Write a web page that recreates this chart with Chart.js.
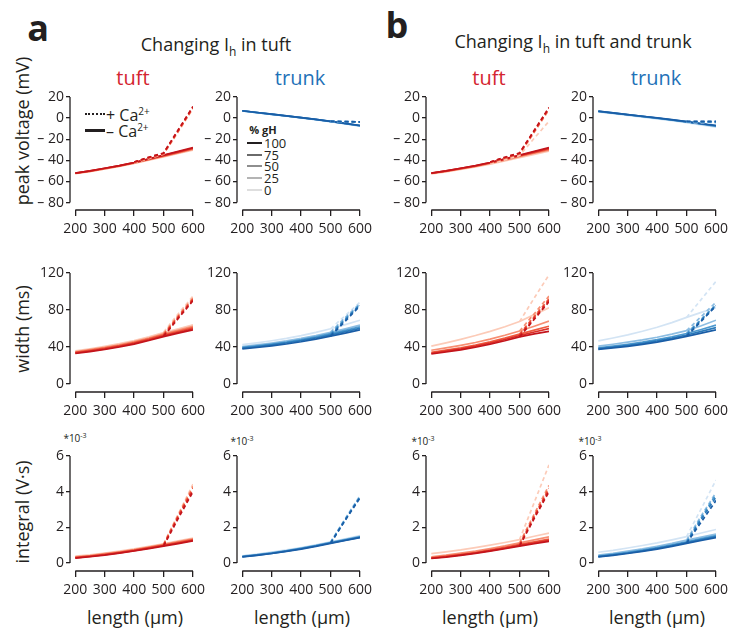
<!DOCTYPE html>
<html>
<head>
<meta charset="utf-8">
<script src="https://cdn.jsdelivr.net/npm/chart.js@4"></script>
<style>
  body { margin: 0; background: #fff; }
  #fig { position: relative; width: 730px; height: 628px; overflow: hidden; font-family: "Open Sans", sans-serif; color: #231f20; }
  #fig canvas { position: absolute; }
  .t { position: absolute; white-space: nowrap; transform: translate(-50%, -50%); line-height: 1; }
  .l { transform: translate(0, -50%); }
  .rot { transform: translate(-50%, -50%) rotate(-90deg); }
  sub, sup { line-height: 0; }
</style>
</head>
<body>
<div id="fig">
  <div class="t" style="left:38px;top:28px;font-size:36px;font-weight:bold;">a</div>
  <div class="t" style="left:397px;top:25px;font-size:36px;font-weight:bold;">b</div>
  <div class="t" style="left:216px;top:44px;font-size:18px;">Changing I<sub style="font-size:12px;">h</sub> in tuft</div>
  <div class="t" style="left:573px;top:41px;font-size:18px;">Changing I<sub style="font-size:12px;">h</sub> in tuft and trunk</div>

  <div class="t" style="left:133px;top:78px;font-size:20px;color:#d42530;">tuft</div>
  <div class="t" style="left:300px;top:78px;font-size:20px;color:#1f72b8;">trunk</div>
  <div class="t" style="left:489px;top:78px;font-size:20px;color:#d42530;">tuft</div>
  <div class="t" style="left:656px;top:78px;font-size:20px;color:#1f72b8;">trunk</div>

  <div class="t rot" style="left:22px;top:131px;font-size:18px;">peak voltage (mV)</div>
  <div class="t rot" style="left:22px;top:329px;font-size:18px;">width (ms)</div>
  <div class="t rot" style="left:22px;top:512px;font-size:18px;">integral (V·s)</div>

  <div class="t" style="left:135px;top:617px;font-size:18px;">length (µm)</div>
  <div class="t" style="left:302px;top:617px;font-size:18px;">length (µm)</div>
  <div class="t" style="left:490px;top:617px;font-size:18px;">length (µm)</div>
  <div class="t" style="left:657px;top:617px;font-size:18px;">length (µm)</div>

  <div class="t" style="left:75px;top:438px;font-size:10px;">*10<sup style="font-size:7px;">-3</sup></div>
  <div class="t" style="left:242px;top:441px;font-size:10px;">*10<sup style="font-size:7px;">-3</sup></div>
  <div class="t" style="left:423px;top:441px;font-size:10px;">*10<sup style="font-size:7px;">-3</sup></div>
  <div class="t" style="left:590px;top:441px;font-size:10px;">*10<sup style="font-size:7px;">-3</sup></div>

  <!-- Ca legend -->
  <div style="position:absolute;left:85px;top:113px;width:20px;border-top:2px dotted #231f20;"></div>
  <div class="t l" style="left:106px;top:115px;font-size:16px;">+ Ca<sup style="font-size:10px;">2+</sup></div>
  <div style="position:absolute;left:85px;top:129px;width:20px;border-top:3px solid #231f20;"></div>
  <div class="t l" style="left:106px;top:131px;font-size:16px;">– Ca<sup style="font-size:10px;">2+</sup></div>

  <!-- gH legend -->
  <div class="t" style="left:263px;top:129px;font-size:11px;font-weight:bold;">% gH</div>
</div>

<script>
const lengths = [200, 250, 300, 350, 400, 450, 500, 550, 600];
const gH = [100, 75, 50, 25, 0];
const lengthTicks = [200, 300, 400, 500, 600];
const peakTicks = [20, 0, -20, -40, -60, -80];
const widthTicks = [0, 40, 80, 120];
const integralTicks = [0, 2, 4, 6];

// peak voltage (mV), one row per gH level
const aTuftPeak = [
  [-52, -50, -47.5, -45, -42, -38.5, -35, -31.5, -28],
  [-52, -50, -47.5, -45, -42.1, -38.7, -35.3, -32, -28.5],
  [-52.2, -50.2, -47.7, -45.2, -42.3, -39, -35.7, -32.4, -29],
  [-52.4, -50.4, -48, -45.5, -42.6, -39.4, -36.2, -33, -29.6],
  [-52.6, -50.6, -48.2, -45.8, -43, -39.8, -36.7, -33.5, -30.2]
];
const aTuftPeakCa = [
  [null, null, null, null, -41.5, -37, -33, -11, 11],
  [null, null, null, null, -41.6, -37.2, -33.3, -11.5, 10.5],
  [null, null, null, null, -41.8, -37.5, -33.6, -12, 10],
  [null, null, null, null, -42.1, -37.9, -33.9, -12.5, 9.5],
  [null, null, null, null, -42.5, -38.3, -34.2, -13, 9]
];
const aTrunkPeak = [
  [7, 5.3, 3.7, 2.1, 0.5, -1.2, -3, -5, -7],
  [7, 5.3, 3.7, 2.1, 0.5, -1.2, -3.1, -5.1, -7.1],
  [6.9, 5.2, 3.6, 2, 0.4, -1.3, -3.2, -5.2, -7.2],
  [6.9, 5.2, 3.6, 2, 0.3, -1.4, -3.3, -5.3, -7.3],
  [6.8, 5.1, 3.5, 1.9, 0.2, -1.5, -3.4, -5.5, -7.5]
];
const aTrunkPeakCa = [
  [null, null, null, null, null, null, -3, -3.3, -3.5],
  [null, null, null, null, null, null, -3.1, -3.3, -3.5],
  [null, null, null, null, null, null, -3.2, -3.4, -3.6],
  [null, null, null, null, null, null, -3.3, -3.5, -3.7],
  [null, null, null, null, null, null, -3.4, -3.6, -3.8]
];
const bTuftPeak = [
  [-52, -50, -47.5, -45, -42, -38.5, -35, -31.5, -28],
  [-52, -50, -47.6, -45.1, -42.2, -38.8, -35.4, -32, -28.6],
  [-52.2, -50.2, -47.8, -45.4, -42.5, -39.2, -35.9, -32.6, -29.3],
  [-52.4, -50.5, -48.1, -45.7, -42.9, -39.7, -36.5, -33.3, -30.2],
  [-52.8, -50.9, -48.6, -46.3, -43.6, -40.5, -37.4, -34.3, -31.3]
];
const bTuftPeakCa = [
  [null, null, null, null, -41.5, -37, -33, -11.5, 10],
  [null, null, null, null, -41.7, -37.3, -33.2, -12, 9.5],
  [null, null, null, null, -42, -37.6, -33.5, -12.5, 9],
  [null, null, null, null, -42.4, -38.1, -34, -13.5, 8],
  [null, null, null, null, -43.4, -39.5, -35.5, -19, -3]
];
const bTrunkPeak = [
  [6.6, 5, 3.4, 1.8, 0.2, -1.5, -3.3, -5.2, -7],
  [6.5, 4.9, 3.3, 1.7, 0.1, -1.6, -3.4, -5.3, -7.2],
  [6.4, 4.8, 3.2, 1.6, 0, -1.8, -3.6, -5.5, -7.5],
  [6.2, 4.6, 3, 1.4, -0.2, -2, -3.9, -5.8, -7.9],
  [5.8, 4.2, 2.6, 1, -0.7, -2.5, -4.4, -6.4, -8.5]
];
const bTrunkPeakCa = [
  [null, null, null, null, null, null, -3.1, -3.1, -3],
  [null, null, null, null, null, null, -3.2, -3.3, -3.4],
  [null, null, null, null, null, null, -3.4, -3.5, -3.6],
  [null, null, null, null, null, null, -3.7, -3.8, -4],
  [null, null, null, null, null, null, -4.2, -4.3, -4.5]
];

// width (ms)
const aTuftWidth = [
  [33, 35, 37.3, 40, 43.2, 47, 51.2, 55, 58.5],
  [33.6, 35.7, 38, 40.8, 44, 47.9, 52.2, 56, 59.8],
  [34.2, 36.4, 38.8, 41.6, 44.9, 48.8, 53.2, 57.1, 61],
  [34.9, 37.1, 39.6, 42.5, 45.8, 49.8, 54.3, 58.3, 62.4],
  [35.8, 38.1, 40.7, 43.6, 47, 51.1, 55.6, 59.7, 64]
];
const aTuftWidthCa = [
  [null, null, null, null, null, null, 51.5, 71, 90],
  [null, null, null, null, null, null, 52.5, 72, 91],
  [null, null, null, null, null, null, 53.5, 73, 92],
  [null, null, null, null, null, null, 54.5, 74, 93],
  [null, null, null, null, null, null, 56, 76, 95]
];
const aTrunkWidth = [
  [38, 39.5, 41.3, 43.3, 45.7, 48.5, 51.7, 55, 58.5],
  [38.8, 40.4, 42.3, 44.4, 46.9, 49.8, 53.1, 56.6, 60.2],
  [39.6, 41.3, 43.2, 45.4, 48, 51, 54.4, 58, 61.8],
  [40.5, 42.3, 44.3, 46.6, 49.3, 52.4, 56, 59.7, 63.6],
  [42.5, 44.5, 46.8, 49.4, 52.4, 55.8, 59.7, 64.2, 69]
];
const aTrunkWidthCa = [
  [null, null, null, null, null, null, 51.7, 68, 84.5],
  [null, null, null, null, null, null, 53.1, 69.5, 85.5],
  [null, null, null, null, null, null, 54.4, 70.5, 86],
  [null, null, null, null, null, null, 56, 72, 87],
  [null, null, null, null, null, null, 59.7, 74, 88.5]
];
const bTuftWidth = [
  [32.5, 34.6, 37, 39.8, 43, 46.8, 51, 54.2, 57],
  [33.3, 35.5, 38, 40.9, 44.2, 48.1, 52.4, 56.2, 60],
  [34.3, 36.6, 39.2, 42.2, 45.6, 49.6, 54, 58.3, 62.5],
  [36.5, 39, 41.8, 44.9, 48.5, 52.7, 57.3, 62.5, 68],
  [41, 44.5, 48.3, 52.4, 56.9, 61.9, 67.5, 75, 82.5]
];
const bTuftWidthCa = [
  [null, null, null, null, null, null, 51, 70, 89],
  [null, null, null, null, null, null, 52.4, 71.5, 90.5],
  [null, null, null, null, null, null, 54, 73, 92],
  [null, null, null, null, null, null, 57.3, 76, 95],
  [null, null, null, null, null, null, 67.5, 93, 118]
];
const bTrunkWidth = [
  [37.5, 39, 40.8, 42.9, 45.3, 48.2, 51.5, 55, 58.5],
  [38.3, 39.9, 41.8, 44, 46.6, 49.6, 53, 56.9, 61],
  [39.2, 41, 43, 45.3, 48, 51.1, 54.6, 59, 63.6],
  [41, 43, 45.2, 47.7, 50.6, 53.9, 57.7, 63, 69],
  [46.7, 49.8, 53.2, 57, 61.4, 66.4, 72, 77.5, 82.5]
];
const bTrunkWidthCa = [
  [null, null, null, null, null, null, 51.5, 68, 84.5],
  [null, null, null, null, null, null, 53, 69, 85],
  [null, null, null, null, null, null, 54.6, 70, 85.5],
  [null, null, null, null, null, null, 57.7, 73, 88.5],
  [null, null, null, null, null, null, 72, 91.5, 111]
];

// integral (x10^-3 V·s)
const aTuftInt = [
  [0.27, 0.35, 0.44, 0.55, 0.67, 0.8, 0.95, 1.09, 1.24],
  [0.29, 0.37, 0.46, 0.57, 0.69, 0.83, 0.98, 1.12, 1.27],
  [0.31, 0.39, 0.49, 0.6, 0.72, 0.86, 1.01, 1.16, 1.31],
  [0.34, 0.42, 0.52, 0.63, 0.75, 0.89, 1.04, 1.2, 1.35],
  [0.38, 0.46, 0.56, 0.67, 0.79, 0.93, 1.08, 1.24, 1.4]
];
const aTuftIntCa = [
  [null, null, null, null, null, null, 0.95, 2.5, 4],
  [null, null, null, null, null, null, 0.98, 2.6, 4.1],
  [null, null, null, null, null, null, 1.01, 2.65, 4.2],
  [null, null, null, null, null, null, 1.04, 2.7, 4.3],
  [null, null, null, null, null, null, 1.08, 2.75, 4.42]
];
const aTrunkInt = [
  [0.34, 0.43, 0.53, 0.65, 0.78, 0.93, 1.1, 1.26, 1.42],
  [0.35, 0.44, 0.54, 0.66, 0.8, 0.95, 1.12, 1.28, 1.44],
  [0.36, 0.45, 0.56, 0.68, 0.82, 0.97, 1.14, 1.3, 1.46],
  [0.38, 0.47, 0.58, 0.7, 0.84, 0.99, 1.16, 1.33, 1.49],
  [0.4, 0.5, 0.61, 0.73, 0.87, 1.02, 1.19, 1.36, 1.53]
];
const aTrunkIntCa = [
  [null, null, null, null, null, null, 1.1, 2.4, 3.65],
  [null, null, null, null, null, null, 1.12, 2.42, 3.7],
  [null, null, null, null, null, null, 1.14, 2.45, 3.72],
  [null, null, null, null, null, null, 1.16, 2.48, 3.75],
  [null, null, null, null, null, null, 1.19, 2.5, 3.8]
];
const bTuftInt = [
  [0.25, 0.33, 0.43, 0.54, 0.66, 0.8, 0.95, 1.08, 1.21],
  [0.27, 0.35, 0.45, 0.56, 0.69, 0.83, 0.99, 1.13, 1.27],
  [0.29, 0.38, 0.48, 0.6, 0.73, 0.88, 1.04, 1.19, 1.34],
  [0.35, 0.44, 0.55, 0.67, 0.81, 0.96, 1.13, 1.3, 1.46],
  [0.52, 0.62, 0.73, 0.86, 1, 1.15, 1.31, 1.5, 1.68]
];
const bTuftIntCa = [
  [null, null, null, null, null, null, 0.95, 2.5, 4],
  [null, null, null, null, null, null, 0.99, 2.58, 4.1],
  [null, null, null, null, null, null, 1.04, 2.65, 4.2],
  [null, null, null, null, null, null, 1.13, 2.75, 4.35],
  [null, null, null, null, null, null, 1.31, 3.4, 5.5]
];
const bTrunkInt = [
  [0.34, 0.43, 0.53, 0.65, 0.78, 0.93, 1.1, 1.26, 1.42],
  [0.36, 0.45, 0.56, 0.68, 0.82, 0.97, 1.14, 1.31, 1.48],
  [0.38, 0.48, 0.59, 0.72, 0.86, 1.02, 1.19, 1.37, 1.54],
  [0.44, 0.54, 0.66, 0.79, 0.94, 1.1, 1.28, 1.45, 1.62],
  [0.6, 0.71, 0.84, 0.98, 1.13, 1.3, 1.48, 1.68, 1.88]
];
const bTrunkIntCa = [
  [null, null, null, null, null, null, 1.1, 2.3, 3.5],
  [null, null, null, null, null, null, 1.14, 2.45, 3.7],
  [null, null, null, null, null, null, 1.19, 2.55, 3.85],
  [null, null, null, null, null, null, 1.28, 2.65, 3.95],
  [null, null, null, null, null, null, 1.48, 3.05, 4.65]
];

const ink = '#231f20';
const reds = ['#c3141b', '#dc2f27', '#ee5a3e', '#f78e72', '#fccbb8'];
const blues = ['#1a5da6', '#2a7aba', '#4d99cf', '#8cbde2', '#d3e4f4'];
const grays = ['#231f20', '#6a6a6a', '#8e8e8e', '#b4b4b4', '#dedede'];

const fig = document.getElementById('fig');

// gH legend
gH.forEach((g, i) => {
  const y = 143 + i * 11.7;
  const ln = document.createElement('div');
  ln.style.cssText = `position:absolute;left:247px;top:${y - 1}px;width:15px;border-top:2px solid ${grays[i]};`;
  fig.appendChild(ln);
  const tx = document.createElement('div');
  tx.className = 't l';
  tx.style.cssText = `left:264px;top:${y}px;font-size:13px;`;
  tx.textContent = g;
  fig.appendChild(tx);
});

// axis spines only between first and last tick (offset axes)
const spines = {
  id: 'spines',
  afterDraw(chart) {
    const { ctx, chartArea, scales: { x, y } } = chart;
    const xt = x.ticks, yt = y.ticks;
    ctx.save();
    ctx.strokeStyle = ink;
    ctx.lineWidth = 1.3;
    ctx.beginPath();
    ctx.moveTo(chartArea.left, y.getPixelForValue(yt[0].value));
    ctx.lineTo(chartArea.left, y.getPixelForValue(yt[yt.length - 1].value));
    ctx.moveTo(x.getPixelForValue(xt[0].value), chartArea.bottom);
    ctx.lineTo(x.getPixelForValue(xt[xt.length - 1].value), chartArea.bottom);
    ctx.stroke();
    ctx.restore();
  }
};

const colX = [70, 237, 426, 593];
const rows = [
  { top: 97, bottom: 210, min: -87, max: 20, ticks: peakTicks, fmt: v => v < 0 ? '– ' + (-v) : String(v) },
  { top: 273, bottom: 392, min: -8.6, max: 120, ticks: widthTicks, fmt: v => String(v) },
  { top: 456, bottom: 571, min: -0.45, max: 6, ticks: integralTicks, fmt: v => String(v) }
];
const yW = 50, padT = 12, padR = 14, xH = 32, plotW = 126;

function panel(col, row, solid, withCa, shades) {
  const r = rows[row];
  const cv = document.createElement('canvas');
  const w = yW + plotW + padR;
  const h = padT + (r.bottom - r.top) + xH;
  cv.width = w; cv.height = h;
  cv.style.left = (colX[col] - yW) + 'px';
  cv.style.top = (r.top - padT) + 'px';
  cv.style.width = w + 'px'; cv.style.height = h + 'px';
  fig.appendChild(cv);

  const datasets = [];
  gH.forEach((g, i) => datasets.push({
    label: '+Ca ' + g, data: withCa[i], borderColor: shades[i], borderWidth: 1.7,
    borderDash: [4, 3], pointRadius: 0, tension: 0, fill: false
  }));
  gH.forEach((g, i) => datasets.push({
    label: '-Ca ' + g, data: solid[i], borderColor: shades[i], borderWidth: 1.7,
    pointRadius: 0, tension: 0, fill: false
  }));

  const tickFont = { family: 'Open Sans', size: 14 };
  new Chart(cv, {
    type: 'line',
    data: { labels: lengths, datasets },
    options: {
      responsive: false,
      animation: false,
      layout: { padding: { top: padT, right: padR, left: 0, bottom: 0 } },
      plugins: { legend: { display: false }, tooltip: { enabled: false } },
      scales: {
        x: {
          type: 'linear', min: 182, max: 600,
          afterBuildTicks: s => { s.ticks = lengthTicks.map(v => ({ value: v })); },
          afterFit: s => { s.height = xH; },
          grid: { drawOnChartArea: false, drawTicks: true, tickLength: 6, color: ink, lineWidth: 1.3 },
          border: { display: false },
          ticks: { color: ink, font: tickFont, padding: 5, maxRotation: 0, autoSkip: false }
        },
        y: {
          min: r.min, max: r.max,
          afterBuildTicks: s => { s.ticks = r.ticks.map(v => ({ value: v })); },
          afterFit: s => { s.width = yW; },
          grid: { drawOnChartArea: false, drawTicks: true, tickLength: 4, color: ink, lineWidth: 1.3 },
          border: { display: false },
          ticks: { color: ink, font: tickFont, padding: 2, callback: v => r.fmt(v), autoSkip: false }
        }
      }
    },
    plugins: [spines]
  });
}

panel(0, 0, aTuftPeak, aTuftPeakCa, reds);
panel(1, 0, aTrunkPeak, aTrunkPeakCa, blues);
panel(2, 0, bTuftPeak, bTuftPeakCa, reds);
panel(3, 0, bTrunkPeak, bTrunkPeakCa, blues);
panel(0, 1, aTuftWidth, aTuftWidthCa, reds);
panel(1, 1, aTrunkWidth, aTrunkWidthCa, blues);
panel(2, 1, bTuftWidth, bTuftWidthCa, reds);
panel(3, 1, bTrunkWidth, bTrunkWidthCa, blues);
panel(0, 2, aTuftInt, aTuftIntCa, reds);
panel(1, 2, aTrunkInt, aTrunkIntCa, blues);
panel(2, 2, bTuftInt, bTuftIntCa, reds);
panel(3, 2, bTrunkInt, bTrunkIntCa, blues);
</script>
</body>
</html>
